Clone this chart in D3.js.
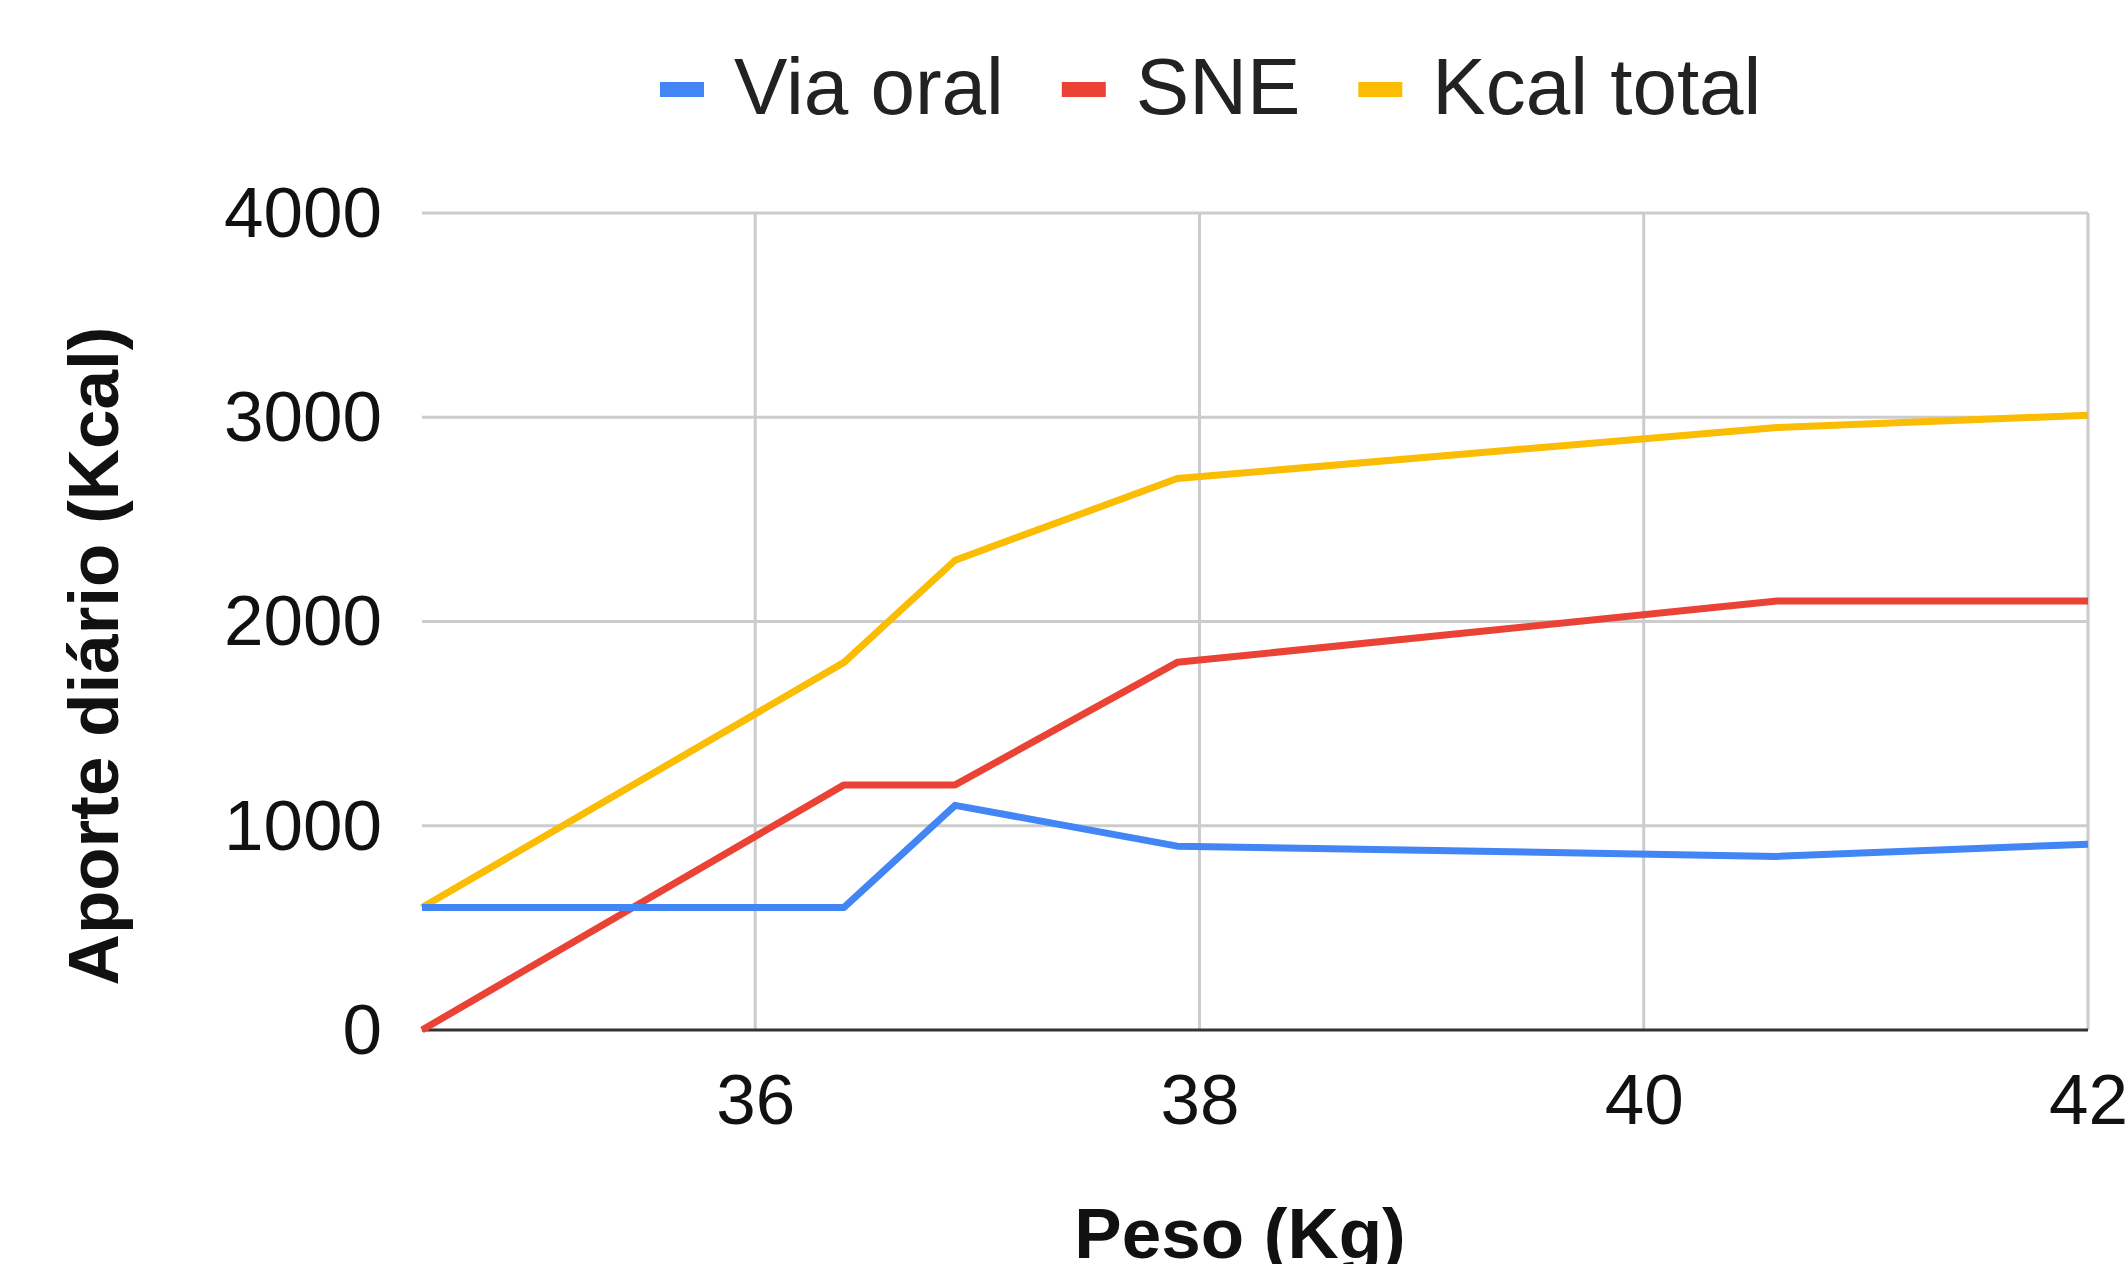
<!DOCTYPE html>
<html>
<head>
<meta charset="utf-8">
<script src="https://cdn.jsdelivr.net/npm/d3@7"></script>
<style>
  body { margin: 0; background: #fff; }
  svg { display: block; font-family: "Liberation Sans", Arial, sans-serif; }
</style>
</head>
<body>
<svg id="chart" width="2126" height="1264"></svg>
<script>
// data
const pesos = [34.5, 36.4, 36.9, 37.9, 40.6, 42];
const viaOral = [600, 600, 1100, 900, 850, 910];
const sne = [0, 1200, 1200, 1800, 2100, 2100];
const kcalTotal = [600, 1800, 2300, 2700, 2950, 3010];
const seriesNames = ["Via oral", "SNE", "Kcal total"];
const seriesColors = ["#4285F4", "#EA4335", "#FBBC04"];
const xTicks = [36, 38, 40, 42];
const yTicks = [0, 1000, 2000, 3000, 4000];

const width = 2126, height = 1264;
const margin = { top: 213, right: 38, bottom: 234, left: 422 };
const w = width - margin.left - margin.right;
const h = height - margin.top - margin.bottom;

const svg = d3.select("#chart");

const x = d3.scaleLinear().domain([34.5, 42]).range([0, w]);
const y = d3.scaleLinear().domain([0, 4000]).range([h, 0]);

const g = svg.append("g")
  .attr("transform", `translate(${margin.left},${margin.top})`);

// gridlines
g.append("g")
  .selectAll("line")
  .data(yTicks.filter(d => d > 0))
  .enter().append("line")
  .attr("x1", 0).attr("x2", w)
  .attr("y1", d => y(d)).attr("y2", d => y(d))
  .attr("stroke", "#cccccc").attr("stroke-width", 3);

g.append("g")
  .selectAll("line")
  .data(xTicks)
  .enter().append("line")
  .attr("x1", d => x(d)).attr("x2", d => x(d))
  .attr("y1", 0).attr("y2", h)
  .attr("stroke", "#cccccc").attr("stroke-width", 3);

// y tick labels
const yAxis = g.append("g")
  .call(d3.axisLeft(y).tickValues(yTicks).tickFormat(d3.format("d")).tickSize(0).tickPadding(40));
yAxis.select(".domain").remove();
yAxis.selectAll("text")
  .attr("font-size", 71)
  .attr("font-family", "Liberation Sans, Arial, sans-serif")
  .attr("fill", "#111")
  .attr("dy", "0.33em");

// x tick labels
const xAxis = g.append("g")
  .attr("transform", `translate(0,${h})`)
  .call(d3.axisBottom(x).tickValues(xTicks).tickSize(0).tickPadding(44));
xAxis.select(".domain").remove();
xAxis.selectAll("text")
  .attr("font-size", 71)
  .attr("font-family", "Liberation Sans, Arial, sans-serif")
  .attr("fill", "#111")
  .attr("dy", "0.71em");

// baseline
g.append("line")
  .attr("x1", 0).attr("x2", w)
  .attr("y1", y(0)).attr("y2", y(0))
  .attr("stroke", "#333").attr("stroke-width", 3);

// lines
const allSeries = [viaOral, sne, kcalTotal];
const line = d3.line()
  .x((d, i) => x(pesos[i]))
  .y(d => y(d));

// draw in reverse so blue sits on top
[2, 1, 0].forEach(k => {
  g.append("path")
    .datum(allSeries[k])
    .attr("fill", "none")
    .attr("stroke", seriesColors[k])
    .attr("stroke-width", 7)
    .attr("stroke-linejoin", "round")
    .attr("d", line);
});

// axis titles
svg.append("text")
  .attr("x", 1240).attr("y", 1258)
  .attr("text-anchor", "middle")
  .attr("font-size", 71).attr("font-weight", "bold")
  .attr("fill", "#111")
  .text("Peso (Kg)");

svg.append("text")
  .attr("transform", "translate(118,656) rotate(-90)")
  .attr("text-anchor", "middle")
  .attr("font-size", 71).attr("font-weight", "bold")
  .attr("fill", "#111")
  .text("Aporte diário (Kcal)");

// legend
const legend = svg.append("g");
let lx = 660;
seriesNames.forEach((name, i) => {
  legend.append("rect")
    .attr("x", lx).attr("y", 82)
    .attr("width", 44).attr("height", 15)
    .attr("fill", seriesColors[i]);
  const t = legend.append("text")
    .attr("x", lx + 74).attr("y", 114)
    .attr("font-size", 80)
    .attr("fill", "#222")
    .text(name);
  lx += 74 + t.node().getComputedTextLength() + 58;
});
</script>
</body>
</html>
